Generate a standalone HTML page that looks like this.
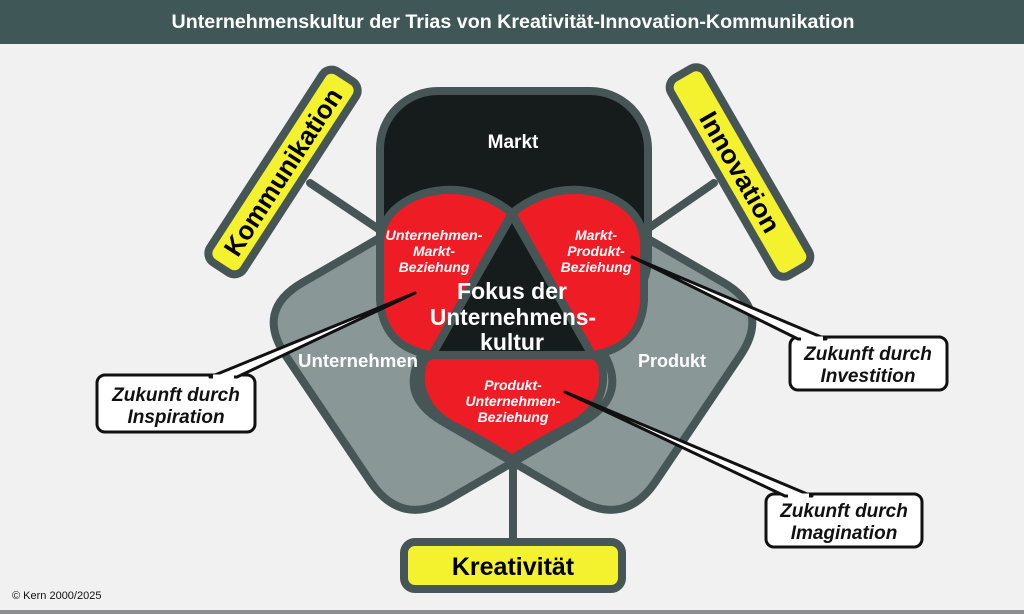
<!DOCTYPE html>
<html><head><meta charset="utf-8"><style>
html,body{margin:0;padding:0;background:#f0f1f0;}
svg{display:block;}
text{font-family:"Liberation Sans",sans-serif;}
</style></head><body>
<svg width="1024" height="614" viewBox="0 0 1024 614" xmlns="http://www.w3.org/2000/svg">
<rect x="0" y="0" width="1024" height="614" fill="#f0f1f0"/>
<rect x="0" y="0" width="1024" height="44" fill="#3f5757"/>
<text x="513" y="28" fill="#fff" font-weight="bold" font-size="19" text-anchor="middle" textLength="683" lengthAdjust="spacingAndGlyphs">Unternehmenskultur der Trias von Kreativität-Innovation-Kommunikation</text>
<rect x="0" y="610" width="1024" height="4" fill="#8a9090"/>

<!-- connector lines -->
<g stroke="#465656" stroke-width="8" stroke-linecap="round">
<line x1="310" y1="183" x2="380" y2="230"/>
<line x1="714" y1="183" x2="646" y2="230"/>
<line x1="513" y1="462" x2="513" y2="545"/>
</g>

<!-- gray shapes -->
<path d="M437.4,204.5 L302.6,282.5 Q255,310 285.7,355.6 L370.3,481.4 Q401,527 448.6,499.5 L583.4,421.5 Q631,394 600.3,348.4 L515.7,222.6 Q485,177 437.4,204.5 Z" fill="#8a9797"/>
<path d="M588.6,204.5 L723.4,282.5 Q771,310 740.3,355.6 L655.7,481.4 Q625,527 577.4,499.5 L442.6,421.5 Q395,394 425.7,348.4 L510.3,222.6 Q541,177 588.6,204.5 Z" fill="#8a9797"/>
<g fill="none" stroke="#465656" stroke-width="8">
<path d="M437.4,204.5 L302.6,282.5 Q255,310 285.7,355.6 L370.3,481.4 Q401,527 448.6,499.5 L583.4,421.5 Q631,394 600.3,348.4 L515.7,222.6 Q485,177 437.4,204.5 Z"/>
<path d="M588.6,204.5 L723.4,282.5 Q771,310 740.3,355.6 L655.7,481.4 Q625,527 577.4,499.5 L442.6,421.5 Q395,394 425.7,348.4 L510.3,222.6 Q541,177 588.6,204.5 Z"/>
</g>

<!-- Markt -->
<rect x="380" y="91" width="268" height="225" rx="58" fill="#161b1b" stroke="#465656" stroke-width="8"/>
<text x="513" y="148" fill="#fff" font-weight="bold" font-size="19" text-anchor="middle">Markt</text>

<!-- red lobes -->
<g fill="#ee1c25" stroke="#465656" stroke-width="8" stroke-linejoin="round">
<path d="M512,213 Q470,180 422,194 Q382,208 380,242 L380,300 Q383,348 432,355 Z"/>
<path d="M512,213 Q554,180 602,194 Q642,208 644,242 L644,300 Q641,348 592,355 Z"/>
<path d="M432,355 L592,355 Q604,357 603,382 Q600,410 570,426 Q540,441 512,459 Q484,441 454,426 Q424,410 421,382 Q420,357 432,355 Z"/>
<path d="M512,215 L592,355 L432,355 Z" fill="#161b1b"/>
</g>

<g fill="#fff" font-weight="bold" font-style="italic" font-size="14" text-anchor="middle">
<text x="434" y="240" textLength="97" lengthAdjust="spacingAndGlyphs">Unternehmen-</text>
<text x="434" y="256">Markt-</text>
<text x="434" y="272">Beziehung</text>
<text x="596" y="240">Markt-</text>
<text x="596" y="256">Produkt-</text>
<text x="596" y="272">Beziehung</text>
<text x="513" y="390">Produkt-</text>
<text x="513" y="406">Unternehmen-</text>
<text x="513" y="422">Beziehung</text>
</g>
<g fill="#fff" font-weight="bold" font-size="23" text-anchor="middle">
<text x="512" y="299">Fokus der</text>
<text x="513" y="325" textLength="166" lengthAdjust="spacingAndGlyphs">Unternehmens-</text>
<text x="512" y="350">kultur</text>
</g>
<g fill="#fff" font-weight="bold" font-size="18" text-anchor="middle">
<text x="358" y="367" textLength="120" lengthAdjust="spacingAndGlyphs">Unternehmen</text>
<text x="672" y="367">Produkt</text>
</g>

<!-- yellow boxes -->
<g transform="translate(283,172) rotate(-57)">
<rect x="-114" y="-20" width="228" height="40" rx="11" fill="#f4f12f" stroke="#465656" stroke-width="8"/>
<text x="0" y="9" font-weight="bold" font-size="26" text-anchor="middle" fill="#000" textLength="194" lengthAdjust="spacingAndGlyphs">Kommunikation</text>
</g>
<g transform="translate(740,172) rotate(60)">
<rect x="-114" y="-20" width="228" height="40" rx="11" fill="#f4f12f" stroke="#465656" stroke-width="8"/>
<text x="0" y="9" font-weight="bold" font-size="26" text-anchor="middle" fill="#000" textLength="135" lengthAdjust="spacingAndGlyphs">Innovation</text>
</g>
<rect x="404" y="542" width="218" height="47" rx="11" fill="#f4f12f" stroke="#465656" stroke-width="8"/>
<text x="513" y="575" font-weight="bold" font-size="25" text-anchor="middle" fill="#000">Kreativität</text>

<!-- callouts -->
<g stroke="#111" stroke-width="3" stroke-linejoin="round">
<rect x="97" y="375" width="158" height="57" rx="8" fill="#fff"/>
<polygon points="210,377 415,293 237,377" fill="#fff"/>
<rect x="790" y="337" width="157" height="53" rx="8" fill="#fff"/>
<polygon points="798,339 632,257 826,339" fill="#fff"/>
<rect x="766" y="494" width="156" height="53" rx="8" fill="#fff"/>
<polygon points="785,496 565,392 812,496" fill="#fff"/>
</g>
<g stroke="#fff" stroke-width="4">
<line x1="213" y1="376.5" x2="234" y2="376.5"/>
<line x1="801" y1="338.5" x2="823" y2="338.5"/>
<line x1="788" y1="495.5" x2="809" y2="495.5"/>
</g>
<g fill="#111" font-weight="bold" font-style="italic" font-size="19" text-anchor="middle">
<text x="176" y="401">Zukunft durch</text>
<text x="176" y="423">Inspiration</text>
<text x="868" y="360">Zukunft durch</text>
<text x="868" y="382">Investition</text>
<text x="844" y="517">Zukunft durch</text>
<text x="844" y="539">Imagination</text>
</g>

<text x="12" y="599" font-size="11" fill="#111">© Kern 2000/2025</text>
</svg>
</body></html>
